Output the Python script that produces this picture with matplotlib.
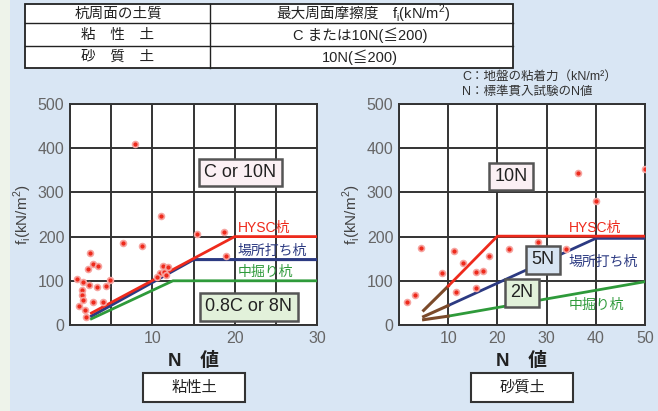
import matplotlib.pyplot as plt
from matplotlib.patches import Rectangle

plt.rcParams['font.family'] = ['Liberation Sans', 'Noto Sans CJK JP', 'DejaVu Sans']
plt.rcParams['mathtext.fontset'] = 'custom'
plt.rcParams['mathtext.rm'] = 'Liberation Sans'

# 粘性土 (clay) measured points
clay_n = [7.9, 11.1, 6.4, 8.7, 2.4, 2.75, 2.2, 3.4, 0.9, 1.6, 2.35, 3.3, 4.4, 4.9,
          1.5, 1.4, 2.75, 4.0, 1.6, 1.1, 1.8, 2.0, 15.4, 18.7, 19.0,
          11.3, 11.9, 10.9, 11.4, 11.6, 10.6]
clay_f = [410, 246, 186, 178, 163, 138, 126, 134, 104, 97, 91, 86, 89, 101,
          80, 68, 51, 51, 57, 43, 34, 19, 207, 210, 155,
          134, 132, 117, 121, 114, 108]

# 砂質土 (sand) measured points
sand_n = [1.55, 3.2, 4.5, 11.2, 8.7, 13.0, 11.6, 15.6, 17.1, 18.2, 15.6,
          22.4, 28.3, 34.0, 36.4, 40.1, 49.9]
sand_f = [52, 68, 174, 168, 117, 140, 74, 119, 123, 155, 83,
          173, 187, 172, 343, 280, 352]

# design lines, clay
hysc_clay_n = [2.6, 20, 30]
hysc_clay_f = [27, 200, 200]
basho_clay_n = [2.6, 15, 30]
basho_clay_f = [20, 148, 148]
naka_clay_n = [2.6, 12.5, 30]
naka_clay_f = [14, 100, 100]

# design lines, sand
hysc_sand_n = [10, 20, 50]
hysc_sand_f = [88, 201, 201]
basho_sand_n = [10, 40, 50]
basho_sand_f = [44, 196, 196]
naka_sand_n = [10, 50]
naka_sand_f = [20, 98]
ext_sand_n = [[5, 10], [5, 10], [5, 10]]
ext_sand_f = [[33, 88], [19, 44], [12, 20]]

RED = '#ee2a1c'
NAVY = '#2c3a82'
GREEN = '#2e9a3a'
BROWN = '#7b4a2a'
GRID = '#333333'

W, H = 658, 411
fig = plt.figure(figsize=(W / 100, H / 100), dpi=100)
fig.patch.set_facecolor('#d9e6f4')

# background layer in pixel coordinates
bg = fig.add_axes([0, 0, 1, 1], zorder=0)
bg.set_xlim(0, W)
bg.set_ylim(H, 0)
bg.axis('off')
bg.add_patch(Rectangle((0, 0), 10, H, fc='#eef3ea', ec='none'))

# table
bg.add_patch(Rectangle((25, 4), 488, 64, fc='white', ec='#222222', lw=1.3))
for y in (23, 46):
    bg.plot([25, 513], [y, y], color='#222222', lw=1.0)
bg.plot([210, 210], [4, 68], color='#222222', lw=1.0)
rows_left = ['杭周面の土質', '粘　性　土', '砂　質　土']
rows_right = ['', 'C または10N(≦200)', '10N(≦200)']
for y, a, b in zip([14, 35, 57], rows_left, rows_right):
    bg.text(118, y, a, ha='center', va='center', fontsize=10.5, color='#222222')
    bg.text(360, y, b, ha='center', va='center', fontsize=10.5, color='#222222')
bg.text(379, 14, '最大周面摩擦度', ha='right', va='center', fontsize=10.5, color='#222222')
bg.text(392, 14, r'f$_\mathregular{i}$(kN/m$^\mathregular{2}$)', ha='left', va='center',
        fontsize=10.5, color='#222222')

bg.text(462, 77, 'C：地盤の粘着力（kN/m²）', ha='left', va='center', fontsize=9, color='#333333')
bg.text(462, 92, 'N：標準貫入試験のN値', ha='left', va='center', fontsize=9, color='#333333')

# bottom captions
for cx, x0, name in [(194, 143, '粘性土'), (522, 471, '砂質土')]:
    bg.text(cx, 361, 'N　値', ha='center', va='center', fontsize=13.5,
            fontweight='bold', color='#222222')
    bg.add_patch(Rectangle((x0, 373), 102, 29, fc='white', ec='#333333', lw=1.5))
    bg.text(cx, 387.5, name, ha='center', va='center', fontsize=11, color='#222222')


def setup(ax, xmax, step, labels):
    ax.set_facecolor('white')
    ax.set_xlim(0, xmax)
    ax.set_ylim(0, 500)
    ax.set_xticks(range(0, xmax + 1, step))
    ax.set_xticklabels(labels)
    ax.set_yticks(range(0, 501, 100))
    ax.grid(True, color=GRID, lw=1.4)
    ax.tick_params(length=0, labelsize=11.5, labelcolor='#666666', pad=4)
    for s in ax.spines.values():
        s.set_color(GRID)
        s.set_linewidth(1.4)
    ax.set_ylabel(r'f$_\mathregular{i}$(kN/m$^\mathregular{2}$)', fontsize=11,
                  color='#444444', labelpad=3)


def box(ax, x, y, text, fc):
    ax.text(x, y, text, ha='center', va='center', fontsize=13, color='#222222', zorder=6,
            bbox=dict(boxstyle='square,pad=0.3', fc=fc, ec='#555555', lw=1.8))


# left: clay
ax1 = fig.add_axes([70 / W, 1 - 325 / H, 247 / W, 221 / H], zorder=2)
setup(ax1, 30, 5, ['', '', '10', '', '20', '', '30'])
ax1.plot(basho_clay_n, basho_clay_f, color=NAVY, lw=2.2, zorder=3)
ax1.plot(hysc_clay_n, hysc_clay_f, color=RED, lw=2.0, zorder=4)
ax1.plot(naka_clay_n, naka_clay_f, color=GREEN, lw=2.0, zorder=3)
ax1.scatter(clay_n, clay_f, s=18, color=RED, edgecolor='#f6a4a0', lw=1.2, zorder=5)
ax1.text(20.4, 220, 'HYSC杭', color=RED, fontsize=10, ha='left', va='center')
ax1.text(20.4, 168, '場所打ち杭', color=NAVY, fontsize=10, ha='left', va='center')
ax1.text(20.4, 120, '中掘り杭', color=GREEN, fontsize=10, ha='left', va='center')
box(ax1, 20.7, 345, 'C or 10N', '#fbf0f4')
box(ax1, 21.7, 41, '0.8C or 8N', '#e2f1da')

# right: sand
ax2 = fig.add_axes([399 / W, 1 - 325 / H, 246 / W, 221 / H], zorder=2)
setup(ax2, 50, 10, ['', '10', '20', '30', '40', '50'])
ax2.plot(hysc_sand_n, hysc_sand_f, color=RED, lw=2.0, zorder=4)
ax2.plot(basho_sand_n, basho_sand_f, color=NAVY, lw=2.0, zorder=3)
ax2.plot(naka_sand_n, naka_sand_f, color=GREEN, lw=2.0, zorder=3)
for xs, ys in zip(ext_sand_n, ext_sand_f):
    ax2.plot(xs, ys, color=BROWN, lw=2.2, zorder=3)
ax2.scatter(sand_n, sand_f, s=18, color=RED, edgecolor='#f6a4a0', lw=1.2, zorder=5)
ax2.text(34.5, 220, 'HYSC杭', color=RED, fontsize=10, ha='left', va='center')
ax2.text(34.5, 143, '場所打ち杭', color=NAVY, fontsize=10, ha='left', va='center')
ax2.text(34.5, 45, '中掘り杭', color=GREEN, fontsize=10, ha='left', va='center')
box(ax2, 22.8, 336, '10N', '#fbf0f4')
box(ax2, 29.3, 148, '5N', '#d8e5f3')
box(ax2, 25.0, 73, '2N', '#e2f1da')

fig.savefig('out.png', dpi=100, facecolor=fig.get_facecolor())
